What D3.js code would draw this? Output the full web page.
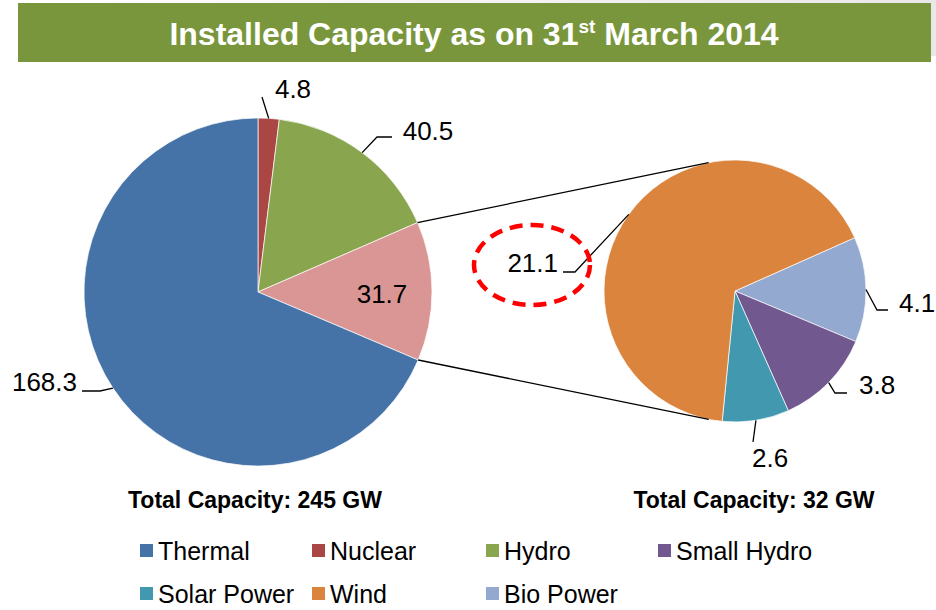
<!DOCTYPE html>
<html>
<head>
<meta charset="utf-8">
<script src="https://cdn.jsdelivr.net/npm/d3@7"></script>
<style>
  body { margin: 0; background: #fff; }
  text { font-family: "Liberation Sans", Arial, sans-serif; }
</style>
</head>
<body>
<div id="chart"></div>
<script>
// data (GW)
const mainCategories = ["Nuclear", "Hydro", "RES", "Thermal"];
const mainValues = [4.8, 40.5, 31.7, 168.3];
const subCategories = ["Bio Power", "Small Hydro", "Solar Power", "Wind"];
const subValues = [4.1, 3.8, 2.6, 21.1];
const legendNames = ["Thermal", "Nuclear", "Hydro", "Small Hydro", "Solar Power", "Wind", "Bio Power"];
const totals = ["Total Capacity: 245 GW", "Total Capacity: 32 GW"];

const colors = {
    "Thermal": "#4572A7",
    "Nuclear": "#AA4643",
    "Hydro": "#89A54E",
    "RES": "#D99694",
    "Small Hydro": "#71588F",
    "Solar Power": "#4198AF",
    "Wind": "#DB843D",
    "Bio Power": "#93A9CF"
};

const svgWidth = 936;
const svgHeight = 610;

const svg = d3.select("#chart").append("svg")
    .attr("width", svgWidth)
    .attr("height", svgHeight);

// faint slide shadow + green title bar
const grad = svg.append("defs").append("linearGradient")
    .attr("id", "shade");
grad.append("stop").attr("offset", "0%").attr("stop-color", "#ffffff");
grad.append("stop").attr("offset", "100%").attr("stop-color", "#e8e8e8");

svg.append("rect")
    .attr("x", 0).attr("y", 0)
    .attr("width", svgWidth).attr("height", 56)
    .attr("fill", "url(#shade)");

svg.append("rect")
    .attr("x", 18).attr("y", 3)
    .attr("width", 913).attr("height", 59)
    .attr("fill", "#7A963C");

const title = svg.append("text")
    .attr("x", 474).attr("y", 45)
    .attr("text-anchor", "middle")
    .attr("fill", "#fff")
    .attr("font-weight", "bold")
    .attr("font-size", 32);
title.append("tspan").text("Installed Capacity as on 31");
title.append("tspan").attr("dy", -12).attr("font-size", 19).text("st");
title.append("tspan").attr("dy", 12).text(" March 2014");

// main pie -------------------------------------------------------------
const mainC = { x: 258, y: 292 };
const mainR = 174;

const mainPie = d3.pie().sort(null).value(d => d.value);
const mainArcs = mainPie(mainCategories.map((c, i) => ({ name: c, value: mainValues[i] })));

const mainG = svg.append("g")
    .attr("transform", `translate(${mainC.x}, ${mainC.y})`);

const mainArc = d3.arc().innerRadius(0).outerRadius(mainR);

mainG.selectAll("path")
    .data(mainArcs)
    .enter()
    .append("path")
    .attr("d", mainArc)
    .attr("fill", d => colors[d.data.name])
    .attr("stroke", "#fff")
    .attr("stroke-width", 0.7);

// second pie ------------------------------------------------------------
const subC = { x: 735, y: 291 };
const subR = 131;
const subStart = 66 * Math.PI / 180;

const subPie = d3.pie().sort(null).value(d => d.value)
    .startAngle(subStart).endAngle(subStart + 2 * Math.PI);
const subArcs = subPie(subCategories.map((c, i) => ({ name: c, value: subValues[i] })));

const subG = svg.append("g")
    .attr("transform", `translate(${subC.x}, ${subC.y})`);

const subArc = d3.arc().innerRadius(0).outerRadius(subR);

subG.selectAll("path")
    .data(subArcs)
    .enter()
    .append("path")
    .attr("d", subArc)
    .attr("fill", d => colors[d.data.name])
    .attr("stroke", "#fff")
    .attr("stroke-width", 0.7);

// point on a circle for a d3 pie angle (0 = 12 o'clock, clockwise)
const onCircle = (c, r, a) => [c.x + r * Math.sin(a), c.y - r * Math.cos(a)];

// tangent point from an outside point p to the second pie
const tangent = (p, upper) => {
    const dx = p[0] - subC.x, dy = p[1] - subC.y;
    const d = Math.sqrt(dx * dx + dy * dy);
    const phi = Math.atan2(dy, dx);
    const alpha = Math.acos(subR / d);
    const a1 = [subC.x + subR * Math.cos(phi + alpha), subC.y + subR * Math.sin(phi + alpha)];
    const a2 = [subC.x + subR * Math.cos(phi - alpha), subC.y + subR * Math.sin(phi - alpha)];
    return upper ? (a1[1] < a2[1] ? a1 : a2) : (a1[1] > a2[1] ? a1 : a2);
};

// connector lines from the RES slice to the second pie
const res = mainArcs.find(d => d.data.name === "RES");
const p1 = onCircle(mainC, mainR, res.startAngle);
const p2 = onCircle(mainC, mainR, res.endAngle);
[[p1, tangent(p1, true)], [p2, tangent(p2, false)]].forEach(seg => {
    svg.append("line")
        .attr("x1", seg[0][0]).attr("y1", seg[0][1])
        .attr("x2", seg[1][0]).attr("y2", seg[1][1])
        .attr("stroke", "#000")
        .attr("stroke-width", 1.3);
});

// data labels ------------------------------------------------------------
// label layout: text anchor point + leader bend / end
const mainLabelPos = {
    "Nuclear": { x: 293, y: 98, anchor: "middle", leader: [[262, 97]] },
    "Hydro": { x: 428, y: 140, anchor: "middle", leader: [[377, 137], [392, 137]] },
    "RES": { x: 382, y: 303, anchor: "middle", leader: null },
    "Thermal": { x: 77, y: 391, anchor: "end", leader: [[100, 391], [82, 391]] }
};
const subLabelPos = {
    "Bio Power": { x: 899, y: 312, anchor: "start", leader: [[877, 310], [888, 310]] },
    "Small Hydro": { x: 859, y: 394, anchor: "start", leader: [[835, 393], [847, 393]] },
    "Solar Power": { x: 752, y: 467, anchor: "start", leader: [[753, 442]] },
    "Wind": { x: 558, y: 272, anchor: "end", leader: [[575, 272], [563, 272]] }
};

const drawLabels = (arcs, c, r, pos) => {
    arcs.forEach(d => {
        const p = pos[d.data.name];
        if (p.leader) {
            const mid = onCircle(c, r, (d.startAngle + d.endAngle) / 2);
            svg.append("path")
                .attr("d", d3.line()([mid].concat(p.leader)))
                .attr("fill", "none")
                .attr("stroke", "#000")
                .attr("stroke-width", 1.3);
        }
        svg.append("text")
            .attr("x", p.x).attr("y", p.y)
            .attr("text-anchor", p.anchor)
            .attr("font-size", 26)
            .attr("fill", "#000")
            .text(d3.format(".1f")(d.data.value));
    });
};

drawLabels(mainArcs, mainC, mainR, mainLabelPos);
drawLabels(subArcs, subC, subR, subLabelPos);

// red dashed highlight round the wind value
svg.append("ellipse")
    .attr("cx", 532).attr("cy", 265)
    .attr("rx", 58).attr("ry", 40)
    .attr("fill", "none")
    .attr("stroke", "#FF0000")
    .attr("stroke-width", 4.5)
    .attr("stroke-dasharray", "13,8");

// totals under each pie
svg.selectAll(".total")
    .data(totals)
    .enter()
    .append("text")
    .attr("class", "total")
    .attr("x", (d, i) => i === 0 ? 255 : 754)
    .attr("y", 508)
    .attr("text-anchor", "middle")
    .attr("font-size", 23)
    .attr("font-weight", "bold")
    .text(d => d);

// legend -----------------------------------------------------------------
const legendX = [140, 312, 486, 658];
const legendY = [544, 587];

const legendG = svg.selectAll(".legend")
    .data(legendNames)
    .enter()
    .append("g")
    .attr("class", "legend")
    .attr("transform", (d, i) => `translate(${legendX[i % 4]}, ${legendY[Math.floor(i / 4)]})`);

legendG.append("rect")
    .attr("width", 13).attr("height", 13)
    .attr("fill", d => colors[d]);

legendG.append("text")
    .attr("x", 18).attr("y", 16)
    .attr("font-size", 25)
    .text(d => d);
</script>
</body>
</html>
